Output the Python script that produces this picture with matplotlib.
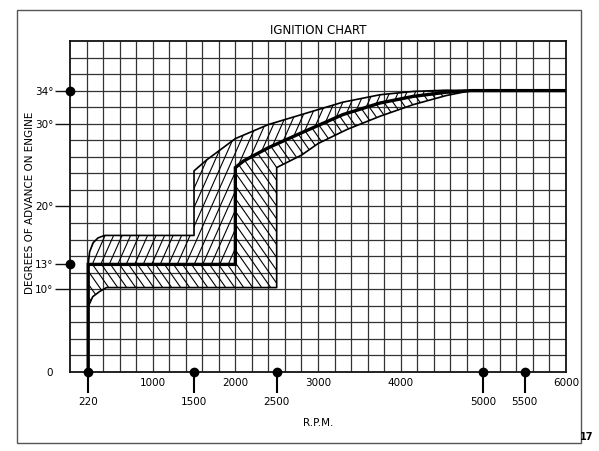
import matplotlib
matplotlib.use("Agg")
import matplotlib.pyplot as plt
import numpy as np
from matplotlib.collections import LineCollection
from matplotlib.patches import Polygon, Rectangle

# upper limit of the advance band (/ hatch)
upper_rpm = [220, 237, 278, 338, 418, 1500, 1500, 1650, 2000, 2400, 2800, 3300,
             3750, 4150, 4550, 4850, 6000]
upper_deg = [13, 14.5, 15.6, 16.2, 16.5, 16.5, 24.3, 25.6, 28.2, 29.9, 31.1, 32.6,
             33.5, 33.9, 34.05, 34, 34]

# nominal advance curve (thick line)
main_rpm = [220, 220, 2000, 2000, 2100, 2400, 2800, 3300, 3750, 4150, 4550, 4850, 6000]
main_deg = [0, 13, 13, 24.7, 25.5, 27.1, 28.9, 31.1, 32.5, 33.3, 33.8, 34, 34]

# lower limit of the advance band (\ hatch)
lower_rpm = [220, 275, 355, 440, 2500, 2500, 2800, 3000, 3350, 3750, 4150, 4550, 4850]
lower_deg = [7.9, 9.1, 9.7, 10.2, 10.2, 24.7, 26.2, 27.6, 29.3, 30.9, 32.3, 33.4, 34]

# axis labels
deg_ticks = [0, 10, 13, 20, 30, 34]
deg_labels = ["0", "10°", "13°", "20°", "30°", "34°"]
deg_marked = [34, 13]
rpm_plain = [1000, 2000, 3000, 4000, 6000]
rpm_marked = [220, 1500, 2500, 5000, 5500]

FONT = ["Liberation Sans Narrow", "DejaVu Sans"]
plt.rcParams["font.family"] = FONT


def hatch_region(ax, poly, angle, spacing_px, ax_w, ax_h):
    # draw slanted hatch lines in axes space and clip them to the polygon
    slope = np.tan(np.radians(angle))
    dx = ax_h / slope / ax_w
    step = spacing_px / ax_w
    starts = np.arange(-1.2, 1.5, step)
    segs = [[(s, 0), (s + dx, 1)] for s in starts]
    lc = LineCollection(segs, colors="black", linewidths=0.8, transform=ax.transAxes)
    ax.add_collection(lc)
    lc.set_clip_path(poly)


fig = plt.figure(figsize=(5.99, 4.51), dpi=100)
ax = fig.add_axes([0.1169, 0.1752, 0.828, 0.734])
ax_w, ax_h = 496, 331

ax.set_xlim(0, 6000)
ax.set_ylim(0, 40)

# grid paper
ax.vlines(np.arange(200, 6000, 200), 0, 40, colors="#333333", linewidth=0.9, zorder=1)
ax.hlines(np.arange(2, 40, 2), 0, 6000, colors="#333333", linewidth=0.9, zorder=1)

# hatched bands
up_pts = list(zip(upper_rpm, upper_deg)) + list(zip(main_rpm[1:], main_deg[1:]))[::-1]
up_poly = Polygon(up_pts, closed=True, facecolor="none", edgecolor="none")
ax.add_patch(up_poly)
hatch_region(ax, up_poly, 66, 8.5, ax_w, ax_h)

lo_pts = list(zip(lower_rpm, lower_deg)) + list(zip(main_rpm[1:], main_deg[1:]))[::-1]
lo_poly = Polygon(lo_pts, closed=True, facecolor="none", edgecolor="none")
ax.add_patch(lo_poly)
hatch_region(ax, lo_poly, -55, 9, ax_w, ax_h)

ax.plot(upper_rpm, upper_deg, color="black", linewidth=1.2, zorder=3)
ax.plot(lower_rpm, lower_deg, color="black", linewidth=1.2, zorder=3)
ax.plot(main_rpm, main_deg, color="black", linewidth=2.4, zorder=4,
        solid_joinstyle="miter")

# marked points on the axes
ax.plot(rpm_marked, [0] * len(rpm_marked), "o", color="black", markersize=6,
        clip_on=False, zorder=6)
ax.plot([0] * len(deg_marked), deg_marked, "o", color="black", markersize=6,
        clip_on=False, zorder=6)

for side in ["left", "right", "top", "bottom"]:
    ax.spines[side].set_linewidth(1.3)
    ax.spines[side].set_color("#111111")

ax.set_yticks(deg_ticks)
ax.set_yticklabels(deg_labels, fontsize=7.5)
ax.tick_params(axis="y", length=11, width=1.0, pad=1, color="#111111")
ax.yaxis.get_major_ticks()[0].tick1line.set_visible(False)

ax.set_xticks(rpm_marked)
ax.set_xticklabels([str(v) for v in rpm_marked], fontsize=7.5)
ax.tick_params(axis="x", which="major", length=15, width=1.5, pad=3, color="black")
ax.set_xticks(rpm_plain, minor=True)
ax.set_xticklabels([str(v) for v in rpm_plain], minor=True, fontsize=7.5)
ax.tick_params(axis="x", which="minor", length=0, pad=4)

ax.set_xlabel("R.P.M.", fontsize=7.5, labelpad=8)
ax.set_ylabel("DEGREES OF ADVANCE ON ENGINE", fontsize=7.5)
ax.yaxis.set_label_coords(-0.07, 0.51)
ax.set_title("IGNITION CHART", fontsize=8.5, pad=5)

# page frame and figure number
fig.patches.append(Rectangle((0.0284, 0.0177), 0.9416, 0.9601, transform=fig.transFigure,
                             fill=False, edgecolor="#555555", linewidth=1.0))
fig.text(0.99, 0.02, "17", fontsize=7, fontweight="bold", ha="right", va="bottom")

fig.savefig("out.png", dpi=100)
